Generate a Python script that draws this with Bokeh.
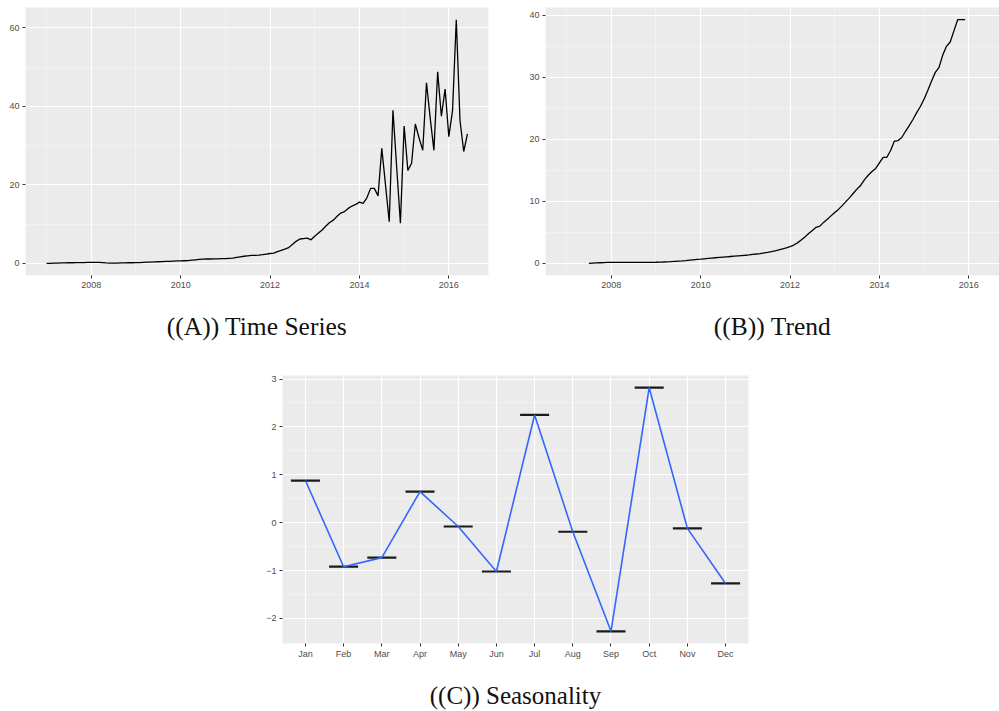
import numpy as np
from bokeh.plotting import figure
from bokeh.models import Range1d, FixedTicker, ColumnDataSource, FactorRange, Spacer
from bokeh.layouts import column, row
from bokeh.transform import dodge
from bokeh.embed import file_html
from bokeh.resources import INLINE

# ---------------- data ----------------
ts_start_year = 2007      # series starts January 2007, monthly
ts_values = [
    0.0, 0.0, 0.05, 0.05, 0.1, 0.1, 0.15, 0.15, 0.2, 0.2, 0.2, 0.25,
    0.25, 0.25, 0.25, 0.2, 0.1, 0.05, 0.05, 0.05, 0.1, 0.1, 0.15, 0.15,
    0.2, 0.2, 0.25, 0.3, 0.3, 0.35, 0.4, 0.45, 0.5, 0.5, 0.55, 0.6,
    0.6, 0.65, 0.7, 0.8, 0.9, 1.0, 1.05, 1.1, 1.1, 1.15, 1.15, 1.2,
    1.2, 1.25, 1.3, 1.5, 1.65, 1.8, 1.9, 2.0, 2.05, 2.1, 2.2, 2.35,
    2.5, 2.6, 3.0, 3.3, 3.6, 4.0, 4.8, 5.6, 6.2, 6.3, 6.4, 6.0,
    6.9, 7.7, 8.5, 9.5, 10.4, 11.0, 12.0, 12.8, 13.2, 14.0, 14.6, 15.0,
    15.6, 15.3, 16.7, 19.1, 19.1, 17.2, 29.3, 20.0, 10.6, 39.0, 24.5, 10.2,
    35.0, 23.7, 25.5, 35.5, 32.0, 28.8, 46.0, 37.0, 28.8, 48.8, 37.5, 44.4,
    32.3, 39.0, 62.1, 36.4, 28.5, 33.0,
]

trend_start_year = 2007
trend_start_month = 7     # trend starts July 2007
trend_values = [
    0.0, 0.03, 0.06, 0.09, 0.12, 0.14,
    0.15, 0.15, 0.15, 0.15, 0.15, 0.15, 0.15, 0.15, 0.15, 0.15, 0.15, 0.16,
    0.17, 0.19, 0.21, 0.24, 0.27, 0.31, 0.35, 0.39, 0.44, 0.5, 0.56, 0.62,
    0.67, 0.73, 0.79, 0.85, 0.9, 0.95, 1.0, 1.05, 1.1, 1.15, 1.2, 1.25,
    1.3, 1.36, 1.43, 1.5, 1.58, 1.67, 1.77, 1.88, 2.0, 2.15, 2.32, 2.5,
    2.7, 2.95, 3.3, 3.75, 4.25, 4.8, 5.3, 5.8, 6.0, 6.6, 7.1, 7.65,
    8.2, 8.7, 9.3, 9.95, 10.6, 11.3, 12.0, 12.6, 13.5, 14.2, 14.8, 15.3,
    16.2, 17.1, 17.1, 18.2, 19.7, 19.8, 20.3, 21.3, 22.2, 23.2, 24.3, 25.3,
    26.5, 27.9, 29.4, 30.8, 31.6, 33.6, 35.0, 35.7, 37.5, 39.3, 39.3, 39.3,
]

months = ["Jan", "Feb", "Mar", "Apr", "May", "Jun",
          "Jul", "Aug", "Sep", "Oct", "Nov", "Dec"]
seasonal_values = [0.88, -0.92, -0.73, 0.65, -0.08, -1.02,
                   2.25, -0.19, -2.27, 2.82, -0.12, -1.27]

year_ticks = [2008, 2010, 2012, 2014, 2016]
year_minor = [2007, 2009, 2011, 2013, 2015]
ts_y_ticks = [0, 20, 40, 60]
ts_y_minor = [10, 30, 50]
trend_y_ticks = [0, 10, 20, 30, 40]
trend_y_minor = [5, 15, 25, 35]
seas_y_ticks = [-2, -1, 0, 1, 2, 3]
seas_y_minor = [-1.5, -0.5, 0.5, 1.5, 2.5]

captions = ["((A)) Time Series", "((B)) Trend", "((C)) Seasonality"]

# ---------------- styling helpers ----------------
PANEL_BG = "#EBEBEB"
TICK_TXT = "#4D4D4D"
CAP_FONT = "Liberation Serif"


def style_axes(p):
    p.background_fill_color = PANEL_BG
    p.border_fill_color = "white"
    p.outline_line_color = None
    for ax in list(p.xaxis) + list(p.yaxis):
        ax.axis_line_color = None
        ax.major_tick_line_color = "#333333"
        ax.major_tick_line_width = 1
        ax.major_tick_in = 0
        ax.major_tick_out = 3
        ax.minor_tick_line_color = None
        ax.major_label_text_font = "Liberation Sans"
        ax.major_label_text_font_size = "9px"
        ax.major_label_text_color = TICK_TXT
        ax.major_label_standoff = 2
    for g in list(p.xgrid) + list(p.ygrid):
        g.grid_line_color = "white"
        g.grid_line_width = 1.2
        g.minor_grid_line_color = "white"
        g.minor_grid_line_alpha = 0.6
        g.minor_grid_line_width = 0.6


def caption(p, text, standoff, size):
    ax = p.xaxis[0]
    ax.axis_label = text
    ax.axis_label_text_font = CAP_FONT
    ax.axis_label_text_font_size = size
    ax.axis_label_text_font_style = "normal"
    ax.axis_label_text_color = "#111111"
    ax.axis_label_standoff = standoff


# ---------------- panel A: time series ----------------
ts_x = ts_start_year + np.arange(len(ts_values)) / 12.0
x_lo = ts_x[0] - 0.05 * (ts_x[-1] - ts_x[0])
x_hi = ts_x[-1] + 0.05 * (ts_x[-1] - ts_x[0])
ts_span = max(ts_values) - 0
pA = figure(width=500, height=345, output_backend="svg", toolbar_location=None,
            x_range=Range1d(x_lo, x_hi),
            y_range=Range1d(0 - 0.05 * ts_span, max(ts_values) + 0.05 * ts_span),
            min_border_left=25, min_border_right=12, min_border_top=7, min_border_bottom=70)
pA.line(ts_x, ts_values, line_color="black", line_width=1.3)
pA.xaxis.ticker = FixedTicker(ticks=year_ticks, minor_ticks=year_minor)
pA.yaxis.ticker = FixedTicker(ticks=ts_y_ticks, minor_ticks=ts_y_minor)
style_axes(pA)
caption(pA, captions[0], 21, "25.5px")

# ---------------- panel B: trend ----------------
tr_x = trend_start_year + (trend_start_month - 1) / 12.0 + np.arange(len(trend_values)) / 12.0
px_per_year = 463.0 / (x_hi - x_lo)
tr_span = max(trend_values) - 0
pB = figure(width=499, height=345, output_backend="svg", toolbar_location=None,
            x_range=Range1d(x_lo, x_lo + 454.0 / px_per_year),
            y_range=Range1d(0 - 0.05 * tr_span, max(trend_values) + 0.05 * tr_span),
            min_border_left=45, min_border_right=0, min_border_top=7, min_border_bottom=70)
pB.line(tr_x, trend_values, line_color="black", line_width=1.3)
pB.xaxis.ticker = FixedTicker(ticks=year_ticks, minor_ticks=year_minor)
pB.yaxis.ticker = FixedTicker(ticks=trend_y_ticks, minor_ticks=trend_y_minor)
style_axes(pB)
caption(pB, captions[1], 21, "25.5px")

# ---------------- panel C: seasonality ----------------
src = ColumnDataSource(dict(month=months, val=seasonal_values))
s_lo, s_hi = min(seasonal_values), max(seasonal_values)
s_pad = 0.05 * (s_hi - s_lo)
pC = figure(width=496, height=366, output_backend="svg", toolbar_location=None,
            x_range=FactorRange(factors=months, range_padding=0.1, range_padding_units="absolute"),
            y_range=Range1d(s_lo - s_pad, s_hi + s_pad),
            min_border_left=20, min_border_right=10, min_border_top=30, min_border_bottom=68)
pC.segment(x0=dodge("month", -0.38, range=pC.x_range), y0="val",
           x1=dodge("month", 0.38, range=pC.x_range), y1="val",
           source=src, line_color="#1A1A1A", line_width=2.2)
pC.line(x="month", y="val", source=src, line_color="#3366FF", line_width=1.6)
pC.yaxis.ticker = FixedTicker(ticks=seas_y_ticks, minor_ticks=seas_y_minor)
style_axes(pC)
pC.xgrid.minor_grid_line_color = None
caption(pC, captions[2], 20, "25px")

layout = column(row(pA, pB), row(Spacer(width=262, height=366), pC))

open("out.html", "w").write(file_html(layout, INLINE))
